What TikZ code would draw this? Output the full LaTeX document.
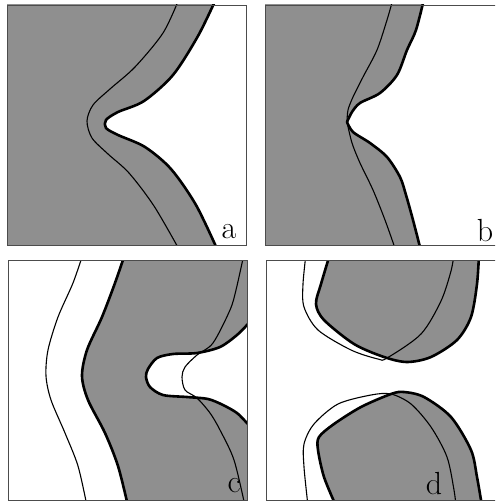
\documentclass[tikz,border=0pt]{standalone}
\usepackage{tikz}
\definecolor{shadegray}{gray}{0.56}

\newcommand{\aRim}{plot[smooth] coordinates {(209,-6) (191,31) (166,70) (137,96)
  (111,107) (99,115) (99,123) (111,130) (138,142) (164,164) (189,200) (211,246)}}
\newcommand{\aTrace}{plot[smooth] coordinates {(172,-6) (156,28) (128,62) (103,84)
  (86,100) (80,116) (85,133) (101,149) (122,168) (147,201) (173,246)}}
\newcommand{\bRim}{plot[smooth] coordinates {(159,-6) (151,25) (142,45) (132,70)
  (115,88) (95,98) (87,107) (82,117)} -- plot[smooth] coordinates {(82,117) (88,127)
  (105,138) (122,152) (135,172) (141,190) (148,215) (156,246)}}
\newcommand{\bTrace}{plot[smooth] coordinates {(128,-6) (122,15) (112,45) (98,72)
  (88,92) (83,105) (82,117)} -- plot[smooth] coordinates {(82,117) (87,138) (95,158)
  (108,185) (120,215) (131,246)}}
\newcommand{\cGhost}{plot[smooth] coordinates {(75,-6) (65,23) (50,57) (40,90)
  (38,116) (43,140) (57,173) (70,206) (79,246)}}
\newcommand{\cRim}{plot[smooth] coordinates {(117,-6) (107,23) (94,57) (79,90)
  (74,116) (80,140) (97,173) (110,206) (120,246)}}
\newcommand{\cNotch}{plot[smooth] coordinates {(248,55) (239,65) (229,75) (212,87)
  (189,93) (165,94) (149,98) (140,109) (138,117) (142,127) (155,135) (179,137)
  (200,139) (215,145) (229,153) (239,163) (248,172)}}
\newcommand{\cTrace}{plot[smooth] coordinates {(236,-6) (228,30) (222,50) (205,83)
  (189,95) (177,107) (174,117) (177,130) (189,138) (202,153) (212,170) (226,200)
  (237,246)}}
\newcommand{\dTopRim}{plot[smooth] coordinates {(64,-6) (55,24) (50,44) (58,60)
  (88,84) (118,97) (141,102) (165,97) (191,80) (205,57) (211,24) (213,-6)}}
\newcommand{\dTopTrace}{plot[smooth] coordinates {(40,-6) (37,24) (38,47) (52,70)
  (85,90) (112,99) (121,98) (155,74) (175,41) (185,11) (188,-6)}}
\newcommand{\dBotRim}{plot[smooth] coordinates {(70,246) (58,217) (52,190) (53,177)
  (68,164) (95,147) (125,134) (138,132) (158,137) (185,157) (205,190) (211,217)
  (216,246)}}
\newcommand{\dBotTrace}{plot[smooth] coordinates {(42,246) (38,207) (38,184) (48,164)
  (72,144) (105,135) (125,134) (145,144) (165,167) (181,197) (188,230) (190,246)}}

\begin{document}
\begin{tikzpicture}[
  x=1pt, y=-1pt,
  panelbox/.style = {draw=black!70, line width=0.8pt},
  grayfill/.style = {fill=shadegray},
  rim/.style      = {line width=2.6pt, line join=round},
  trace/.style    = {line width=1.1pt, line join=round},
  letter/.style   = {font=\fontsize{32}{32}\selectfont, inner sep=0pt}
]
  \useasboundingbox (0,0) rectangle (495,503);
  \clip (0,0) rectangle (495,503);

  %% Panel a
  \begin{scope}[shift={(7,5)}]
    \begin{scope}
      \clip (0,0) rectangle (239,240);
      \fill[grayfill] \aRim -- (-5,246) -- (-5,-6) -- cycle;
      \draw[trace] \aTrace;
      \draw[rim] \aRim;
    \end{scope}
    \draw[panelbox] (0,0) rectangle (239,240);
    \node[letter] (la) at (222,227) {a};
  \end{scope}

  %% Panel b
  \begin{scope}[shift={(265,5)}]
    \begin{scope}
      \clip (0,0) rectangle (239,240);
      \fill[grayfill] \bRim -- (-5,246) -- (-5,-6) -- cycle;
      \draw[trace] \bTrace;
      \draw[rim] \bRim;
    \end{scope}
    \draw[panelbox] (0,0) rectangle (239,240);
    \node[letter] (lb) at (220,226) {b};
  \end{scope}

  %% Panel c
  \begin{scope}[shift={(8,260)}]
    \begin{scope}
      \clip (0,0) rectangle (239,240);
      \fill[grayfill] \cRim -- (246,246) -- (246,-6) -- cycle;
      \fill[white] \cNotch -- cycle;
      \draw[trace] \cGhost;
      \draw[trace] \cTrace;
      \draw[rim] \cRim;
      \draw[rim] \cNotch;
    \end{scope}
    \draw[panelbox] (0,0) rectangle (239,240);
    \node[letter] (lc) at (226,226) {c};
  \end{scope}

  %% Panel d
  \begin{scope}[shift={(266,260)}]
    \begin{scope}
      \clip (0,0) rectangle (239,240);
      \fill[grayfill] \dTopRim -- cycle;
      \fill[grayfill] \dBotRim -- cycle;
      \draw[trace] \dTopTrace;
      \draw[trace] \dBotTrace;
      \draw[rim] \dTopRim;
      \draw[rim] \dBotRim;
    \end{scope}
    \draw[panelbox] (0,0) rectangle (239,240);
    \node[letter] (ld) at (168,224) {d};
  \end{scope}
\end{tikzpicture}
\end{document}
